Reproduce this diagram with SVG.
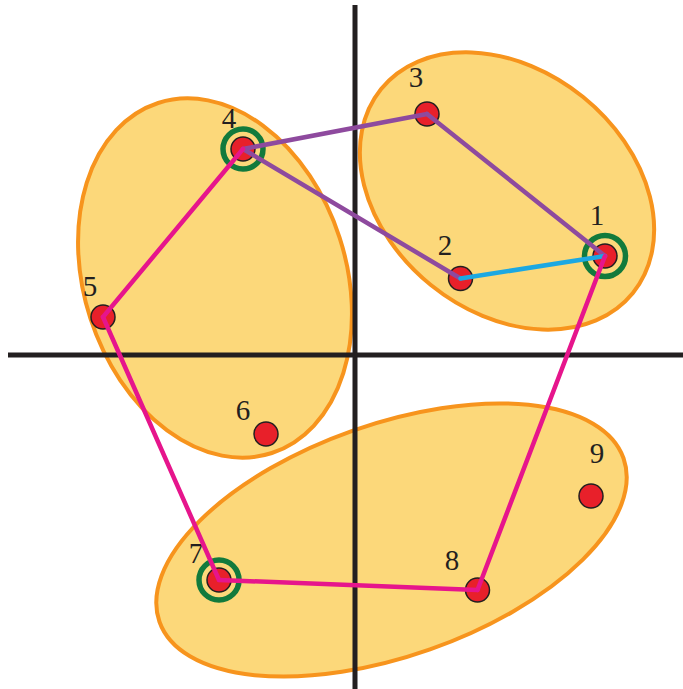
<svg xmlns="http://www.w3.org/2000/svg" width="683" height="689" viewBox="0 0 683 689">
<style>
.cluster{fill:#FCD87A;stroke:#F7941D;stroke-width:4}
.axis{stroke:#231F20;stroke-width:5}
.e{fill:none;stroke-width:4.5;stroke-linecap:round}
.p{stroke:#8E4A9E}
.m{stroke:#E6158C}
.c{stroke:#1CA8E2}
.dot{fill:#E8202A;stroke:#231F20;stroke-width:1.5}
.ring{fill:none;stroke:#127A3C;stroke-width:5.5}
.lbl{font-family:"Liberation Serif","Times New Roman",serif;font-size:29px;fill:#231F20;text-anchor:middle}
</style>
<rect width="683" height="689" fill="#ffffff"/>
<g id="clusters">
<ellipse id="clusterA" class="cluster" cx="215" cy="278" rx="131" ry="184" transform="rotate(-18 215 278)"/>
<ellipse id="clusterB" class="cluster" cx="507" cy="191" rx="162" ry="121" transform="rotate(39 507 191)"/>
<ellipse id="clusterC" class="cluster" cx="391.5" cy="540" rx="246" ry="116" transform="rotate(-19.4 391.5 540)"/>
</g>
<g id="axes">
<line class="axis" x1="355" y1="5" x2="355" y2="689"/>
<line class="axis" x1="8" y1="355" x2="683" y2="355"/>
</g>
<g id="rings">
<circle class="ring" cx="243" cy="149" r="20"/>
<circle class="ring" cx="605" cy="256" r="20.5"/>
<circle class="ring" cx="219" cy="580" r="20"/>
</g>
<g id="n1"><circle class="dot" cx="605" cy="256" r="12"/><text class="lbl" x="597" y="225">1</text></g>
<g id="n2"><circle class="dot" cx="460.5" cy="278.5" r="12"/><text class="lbl" x="445" y="255">2</text></g>
<g id="n3"><circle class="dot" cx="427" cy="114" r="12"/><text class="lbl" x="416" y="87">3</text></g>
<g id="n4"><circle class="dot" cx="243" cy="149" r="12"/><text class="lbl" x="229" y="128">4</text></g>
<g id="n5"><circle class="dot" cx="103" cy="317" r="12"/><text class="lbl" x="90" y="296">5</text></g>
<g id="n6"><circle class="dot" cx="266" cy="434" r="12"/><text class="lbl" x="243" y="420">6</text></g>
<g id="n7"><circle class="dot" cx="219" cy="580" r="12"/><text class="lbl" x="196" y="563">7</text></g>
<g id="n8"><circle class="dot" cx="477.5" cy="590" r="12"/><text class="lbl" x="452" y="570">8</text></g>
<g id="n9"><circle class="dot" cx="591" cy="496" r="12"/><text class="lbl" x="597" y="463">9</text></g>
<g id="connectors">
<line class="e p" x1="243" y1="149" x2="427" y2="114"/>
<line class="e p" x1="427" y1="114" x2="605" y2="256"/>
<line class="e p" x1="243" y1="149" x2="460.5" y2="278.5"/>
<line class="e c" x1="460.5" y1="278.5" x2="605" y2="256"/>
<line class="e m" x1="243" y1="149" x2="103" y2="317"/>
<line class="e m" x1="103" y1="317" x2="219" y2="580"/>
<line class="e m" x1="219" y1="580" x2="477.5" y2="590"/>
<line class="e m" x1="477.5" y1="590" x2="605" y2="256"/>
</g>
</svg>
